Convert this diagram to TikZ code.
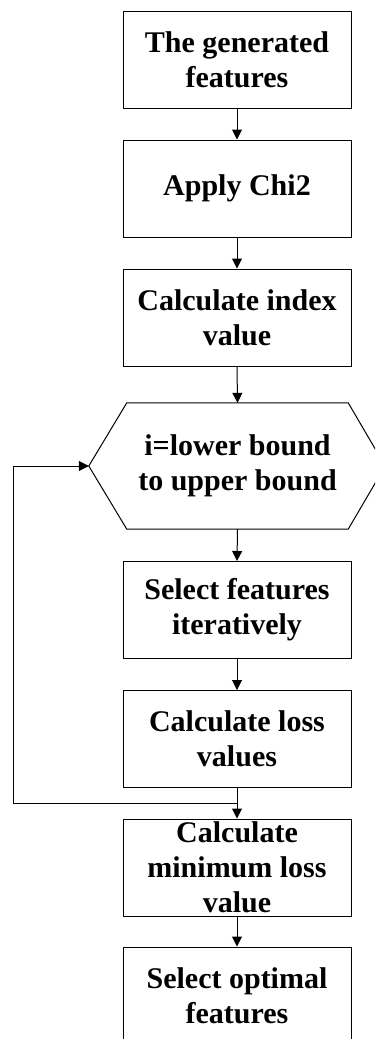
\documentclass[tikz,border=0pt]{standalone}
\usepackage{fontspec}
\setmainfont{Liberation Serif}
\usetikzlibrary{arrows.meta,calc}
\begin{document}
\begin{tikzpicture}[x=1pt,y=-1pt,
  txt/.style={inner sep=0pt,align=center,font=\bfseries\fontsize{30}{35}\selectfont},
  box/.style={txt,draw,line width=1pt,minimum width=228pt,minimum height=97pt},
  hexbox/.style={txt,minimum width=221pt,minimum height=126pt},
  conn/.style={line width=1pt},
  arr/.style={conn,-{Triangle[length=10pt,width=10pt]}}]
\useasboundingbox (0,0) rectangle (375,1039);
\clip (0,0) rectangle (375,1039);
\node[box] (b1) at (237,59.5) {The generated\\features};
\node[box] (b2) at (237,188.5) {Apply Chi2};
\node[box] (b3) at (237,317.5) {Calculate index\\value};
\node[hexbox] (hex) at (237.5,466) {i=lower bound\\to upper bound};
\coordinate (hexL) at ($(hex.west)+(-38,0)$);
\coordinate (hexR) at ($(hex.east)+(37,0)$);
\draw[conn] (hex.north west) -- (hex.north east) -- (hexR) -- (hex.south east)
  -- (hex.south west) -- (hexL) -- cycle;
\node[box] (b5) at (237,610) {Select features\\iteratively};
\node[box] (b6) at (237,739) {Calculate loss\\values};
\node[box] (b7) at (237,867.5) {Calculate\\minimum loss\\value};
\node[box] (b8) at (237,995.5) {Select optimal\\features};
\draw[arr] (b1.south) -- (b2.north);
\draw[arr] (b2.south) -- (b3.north);
\draw[arr] (b3.south) -- (hex.north);
\draw[arr] (hex.south) -- (b5.north);
\draw[arr] (b5.south) -- (b6.north);
\draw[arr] (b6.south) -- (b7.north);
\draw[arr] (b7.south) -- (b8.north);
\coordinate (j) at (237,803);
\coordinate (lb) at (13,803);
\coordinate (lt) at (13,466);
\draw[arr] (j) -- (lb) -- (lt) -- (hexL);
\end{tikzpicture}
\end{document}
